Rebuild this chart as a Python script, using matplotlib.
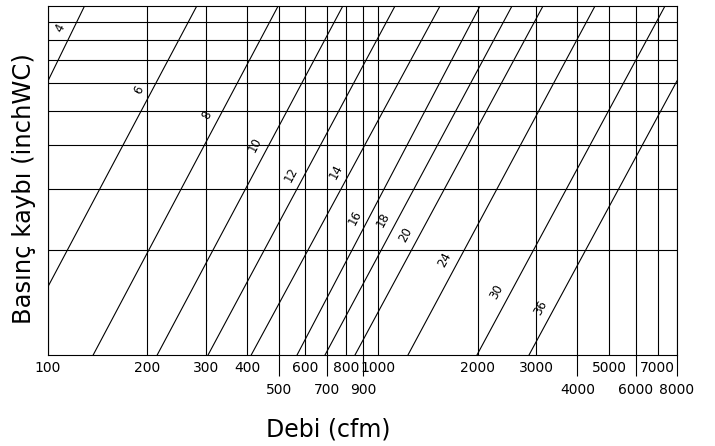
import numpy as np
import matplotlib
matplotlib.use("Agg")
import matplotlib.pyplot as plt

# Kanal çapları (inch) ve her doğrunun okunan uç noktaları (cfm, inchWC)
DIAMETERS = [4, 6, 8, 10, 12, 14, 16, 18, 20, 24, 30, 36]
Q_START = [100, 100, 137, 214, 305, 412, 567, 689, 849, 1228, 1986, 2854]
P_START = [0.61, 0.157, 0.1, 0.1, 0.1, 0.1, 0.1, 0.1, 0.1, 0.1, 0.1, 0.1]
Q_END = [129, 282, 497, 780, 1122, 1535, 2028, 2535, 3146, 4520, 7360, 8000]
P_END = [1.0, 1.0, 1.0, 1.0, 1.0, 1.0, 1.0, 1.0, 1.0, 1.0, 1.0, 0.61]
LABEL_P = [0.866, 0.575, 0.487, 0.40, 0.328, 0.334, 0.248, 0.244, 0.221, 0.187, 0.1515, 0.137]

UPPER_TICKS = [100, 200, 300, 400, 600, 800, 1000, 2000, 3000, 5000, 7000]
LOWER_TICKS = [500, 700, 900, 4000, 6000, 8000]
H_GRID = [0.2, 0.3, 0.4, 0.5, 0.6, 0.7, 0.8, 0.9]

X_LIM = (100, 8000)
Y_LIM = (0.1, 1.0)

LINE_W = 0.8
FONT = "DejaVu Sans"


def point_on_line(q0, p0, q1, p1, p):
    # log-log doğru üzerinde verilen basınçtaki debi
    t = (np.log10(p) - np.log10(p0)) / (np.log10(p1) - np.log10(p0))
    return 10 ** (np.log10(q0) + t * (np.log10(q1) - np.log10(q0)))


def main():
    plt.rcParams["font.family"] = FONT
    fig = plt.figure(figsize=(7.15, 4.46), dpi=100)
    ax = fig.add_axes([0.0671, 0.204, 0.8797, 0.7825])
    ax.set_xscale("log")
    ax.set_yscale("log")
    ax.set_xlim(*X_LIM)
    ax.set_ylim(*Y_LIM)

    # ızgara
    all_ticks = sorted(UPPER_TICKS + LOWER_TICKS)
    for q in all_ticks:
        ax.axvline(q, color="black", lw=LINE_W, zorder=1)
    for p in H_GRID:
        ax.axhline(p, color="black", lw=LINE_W, zorder=1)

    # çap doğruları
    for d, q0, p0, q1, p1, lp in zip(DIAMETERS, Q_START, P_START, Q_END, P_END, LABEL_P):
        ax.plot([q0, q1], [p0, p1], color="black", lw=LINE_W, zorder=2)
        ql = point_on_line(q0, p0, q1, p1, lp)
        ax.annotate(str(d), xy=(ql, lp), xytext=(-10, 0), textcoords="offset points",
                    rotation=62, ha="center", va="center", fontsize=8.5)

    # x ekseni etiketleri iki sıra
    ax.xaxis.set_minor_locator(matplotlib.ticker.NullLocator())
    ax.set_xticks(all_ticks)
    ax.set_xticklabels([str(t) for t in all_ticks], fontsize=10)
    ax.tick_params(axis="x", which="major", length=0, pad=4.5, width=LINE_W)
    for tick, val in zip(ax.xaxis.get_major_ticks(), all_ticks):
        if val in LOWER_TICKS:
            tick.set_pad(20)
            tick.tick1line.set_markersize(15)
            tick.tick1line.set_markeredgewidth(LINE_W)

    ax.yaxis.set_minor_locator(matplotlib.ticker.NullLocator())
    ax.set_yticks([])
    ax.tick_params(axis="y", which="both", left=False, labelleft=False)

    for s in ax.spines.values():
        s.set_linewidth(LINE_W)

    ax.set_xlabel("Debi (cfm)", fontsize=17)
    ax.xaxis.set_label_coords(0.445, -0.178)
    ax.set_ylabel("Basınç kaybı (inchWC)", fontsize=17.5)
    ax.yaxis.set_label_coords(-0.019, 0.478)

    fig.savefig("out.png", dpi=100, facecolor="white")


if __name__ == "__main__":
    main()
